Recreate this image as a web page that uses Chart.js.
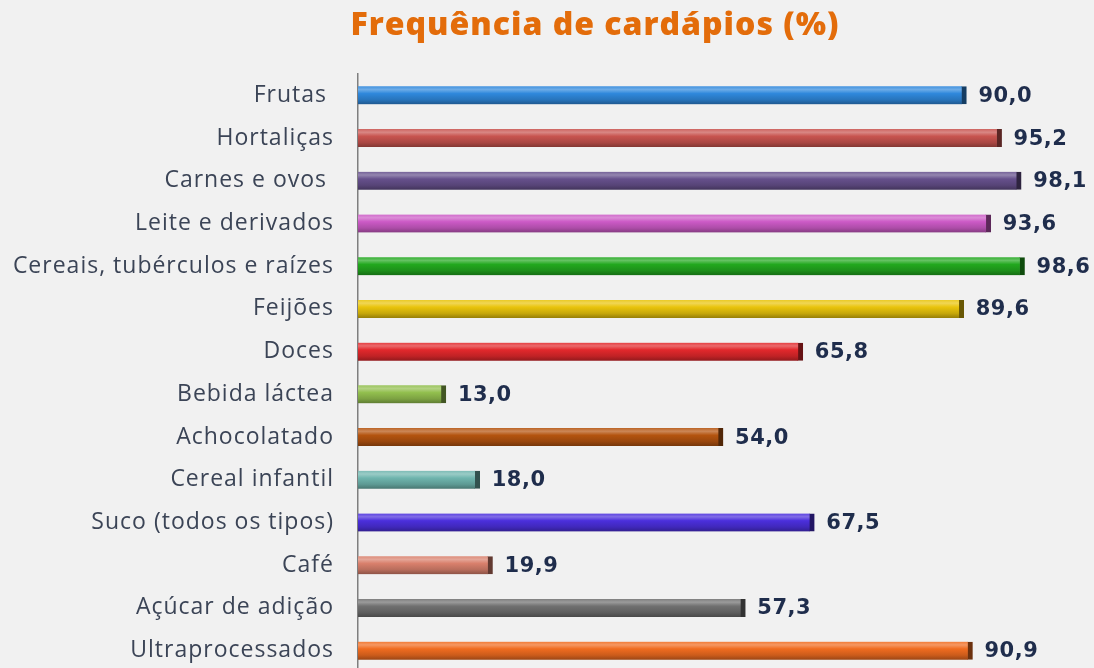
<!DOCTYPE html>
<html>
<head>
<meta charset="utf-8">
<script src="https://cdn.jsdelivr.net/npm/chart.js@4.4.1/dist/chart.umd.min.js"></script>
<style>
  html, body { margin: 0; padding: 0; background: #f1f1f1; overflow: hidden; }
  canvas { display: block; }
</style>
</head>
<body>
<canvas id="chart" width="1094" height="690"></canvas>
<script>
// data
var categories = [
  'Frutas ', 'Hortaliças', 'Carnes e ovos ', 'Leite e derivados',
  'Cereais, tubérculos e raízes', 'Feijões', 'Doces', 'Bebida láctea',
  'Achocolatado', 'Cereal infantil', 'Suco (todos os tipos)', 'Café',
  'Açúcar de adição', 'Ultraprocessados'
];
var values = [90.0, 95.2, 98.1, 93.6, 98.6, 89.6, 65.8, 13.0, 54.0, 18.0, 67.5, 19.9, 57.3, 90.9];
var barColors = [
  '#2f88dc', '#c8544f', '#66508c', '#cc5ac6', '#22a81e', '#e9c40c', '#e2282c',
  '#92bf4e', '#b4540f', '#6fb5ae', '#4b2fdc', '#d9806c', '#707070', '#f06c20'
];

function shade(hex, f) {
  var n = parseInt(hex.slice(1), 16);
  var r = (n >> 16) & 255, g = (n >> 8) & 255, b = n & 255;
  if (f > 0) {
    r = r + (255 - r) * f; g = g + (255 - g) * f; b = b + (255 - b) * f;
  } else {
    r = r * (1 + f); g = g * (1 + f); b = b * (1 + f);
  }
  return 'rgb(' + Math.round(r) + ',' + Math.round(g) + ',' + Math.round(b) + ')';
}

function barFill(context) {
  var chart = context.chart;
  var col = barColors[context.dataIndex];
  if (!chart.chartArea || !chart.scales.y) return col;
  var yc = chart.scales.y.getPixelForValue(context.dataIndex);
  var g = chart.ctx.createLinearGradient(0, yc - 9, 0, yc + 9);
  g.addColorStop(0, shade(col, 0.1));
  g.addColorStop(0.18, shade(col, 0.3));
  g.addColorStop(0.4, col);
  g.addColorStop(0.75, shade(col, -0.15));
  g.addColorStop(1, shade(col, -0.35));
  return g;
}

// slightly wider tick text, like the source
var spacing = {
  id: 'spacing',
  beforeDraw: function(chart) { chart.ctx.letterSpacing = '1px'; },
  afterDraw: function(chart) { chart.ctx.letterSpacing = '0px'; }
};

var valueLabels = {
  id: 'valueLabels',
  afterDatasetsDraw: function(chart) {
    var ctx = chart.ctx;
    var meta = chart.getDatasetMeta(0);
    ctx.save();
    ctx.font = 'bold 21px "DejaVu Sans"';
    ctx.letterSpacing = '0.5px';
    ctx.fillStyle = '#1f2d4c';
    ctx.textAlign = 'left';
    ctx.textBaseline = 'middle';
    meta.data.forEach(function(bar, i) {
      ctx.fillText(values[i].toFixed(1).replace('.', ','), bar.x + 12, bar.y + 1);
    });
    ctx.restore();
  }
};

var titleText = {
  id: 'titleText',
  afterDraw: function(chart) {
    var ctx = chart.ctx;
    ctx.save();
    ctx.font = '800 32px "Open Sans"';
    ctx.letterSpacing = '1px';
    ctx.fillStyle = '#e36c0a';
    ctx.textAlign = 'center';
    ctx.textBaseline = 'middle';
    ctx.fillText('Frequência de cardápios (%)', 595, 26);
    ctx.restore();
  }
};

new Chart(document.getElementById('chart'), {
  type: 'bar',
  data: {
    labels: categories,
    datasets: [{
      data: values,
      backgroundColor: barFill,
      borderColor: barColors.map(function(c) { return shade(c, -0.55); }),
      borderWidth: { top: 0, right: 5, bottom: 0, left: 0 },
      borderSkipped: 'start',
      barThickness: 18
    }]
  },
  options: {
    indexAxis: 'y',
    responsive: false,
    maintainAspectRatio: false,
    animation: false,
    layout: { padding: { top: 74, right: 60, bottom: 18, left: 0 } },
    plugins: {
      legend: { display: false },
      tooltip: { enabled: false }
    },
    scales: {
      x: {
        display: false,
        min: 0,
        max: 100
      },
      y: {
        afterFit: function(scale) {
          scale.width = 358;
          scale.paddingTop = 0;
          scale.paddingBottom = 0;
        },
        grid: { display: false, drawTicks: false },
        border: { display: true, color: '#7f7f7f', width: 1.5 },
        ticks: {
          padding: 24,
          color: '#3b4456',
          font: { family: 'Open Sans', size: 23 }
        }
      }
    }
  },
  plugins: [spacing, valueLabels, titleText]
});
</script>
</body>
</html>
